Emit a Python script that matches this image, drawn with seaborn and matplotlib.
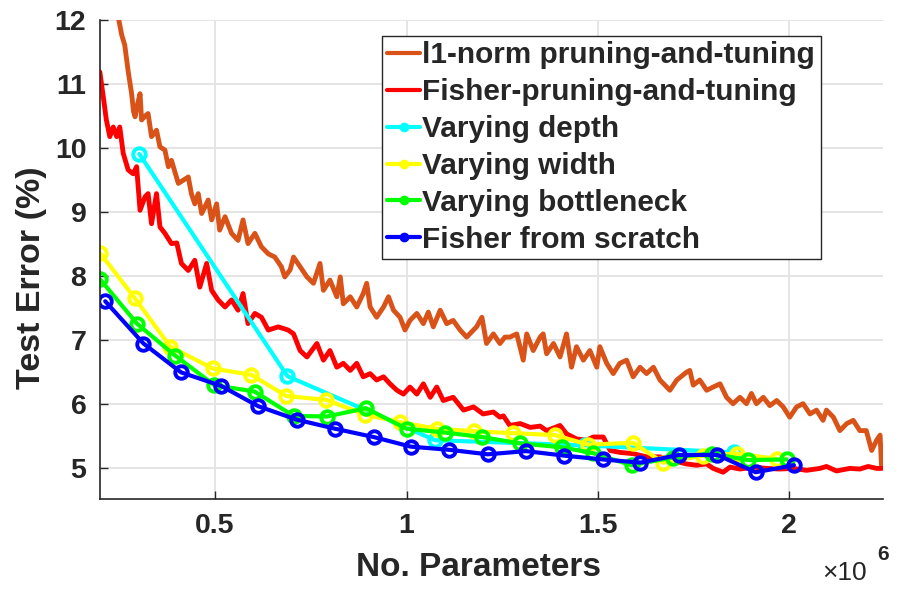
import matplotlib
matplotlib.use('Agg')
import matplotlib.pyplot as plt
import seaborn as sns
from matplotlib.lines import Line2D

# l1-norm pruning-and-tuning (values in units of 1e6 parameters)
l1_x = [0.205, 0.215, 0.235, 0.247, 0.256, 0.264, 0.273, 0.282, 0.287, 0.291, 0.298, 0.304, 0.308,
        0.317, 0.325, 0.334, 0.347, 0.356, 0.369, 0.378, 0.386, 0.404, 0.417, 0.43, 0.438, 0.447,
        0.456, 0.465, 0.473, 0.482, 0.491, 0.504, 0.512, 0.526, 0.543, 0.56, 0.573, 0.586, 0.604,
        0.621, 0.639, 0.656, 0.673, 0.682, 0.696, 0.705, 0.722, 0.74, 0.757, 0.774, 0.783, 0.8,
        0.818, 0.827, 0.835, 0.853, 0.87, 0.887, 0.896, 0.905, 0.922, 0.94, 0.953, 0.966, 0.983,
        0.996, 1.009, 1.027, 1.044, 1.057, 1.07, 1.088, 1.105, 1.122, 1.14, 1.157, 1.183, 1.197,
        1.209, 1.227, 1.244, 1.257, 1.27, 1.288, 1.305, 1.314, 1.331, 1.349, 1.357, 1.366, 1.384,
        1.401, 1.418, 1.431, 1.444, 1.462, 1.479, 1.497, 1.505, 1.523, 1.54, 1.557, 1.575, 1.592,
        1.61, 1.627, 1.645, 1.662, 1.688, 1.706, 1.731, 1.74, 1.749, 1.766, 1.784, 1.801, 1.819,
        1.836, 1.853, 1.871, 1.888, 1.901, 1.914, 1.932, 1.949, 1.967, 1.984, 2.001, 2.019, 2.036,
        2.054, 2.071, 2.088, 2.097, 2.115, 2.132, 2.15, 2.167, 2.184, 2.201, 2.215, 2.228, 2.237,
        2.241]
l1_y = [12.4, 12.3, 12.15, 12.05, 11.77, 11.61, 11.2, 10.85, 10.57, 10.49, 10.7, 10.85, 10.44,
        10.5, 10.54, 10.18, 10.28, 10.02, 9.97, 9.71, 9.81, 9.45, 9.5, 9.55, 9.29, 9.13,
        9.29, 8.98, 9.08, 9.19, 8.88, 9.13, 8.72, 8.93, 8.67, 8.56, 8.88, 8.51, 8.67,
        8.46, 8.35, 8.30, 8.15, 7.99, 8.1, 8.30, 8.15, 7.99, 7.89, 8.2, 7.78, 7.94,
        7.68, 7.99, 7.57, 7.68, 7.52, 7.73, 7.89, 7.52, 7.36, 7.52, 7.68, 7.47, 7.36,
        7.16, 7.31, 7.42, 7.26, 7.44, 7.21, 7.47, 7.26, 7.31, 7.16, 7.05, 7.21, 7.36,
        6.95, 7.1, 6.95, 7.05, 7.05, 7.1, 6.69, 7.1, 6.84, 7.05, 7.1, 6.79, 6.95,
        6.74, 7.1, 6.58, 6.90, 6.69, 6.84, 6.58, 6.90, 6.64, 6.48, 6.64, 6.69, 6.43,
        6.58, 6.48, 6.58, 6.38, 6.22, 6.38, 6.5, 6.53, 6.3, 6.38, 6.22, 6.27, 6.32,
        6.11, 6.01, 6.11, 6.01, 6.17, 6.01, 6.11, 5.98, 6.06, 5.96, 5.80, 5.96, 6.01,
        5.85, 5.91, 5.75, 5.91, 5.80, 5.59, 5.70, 5.75, 5.59, 5.59, 5.28, 5.44, 5.52,
        5.02]

# Fisher-pruning-and-tuning
fp_x = [0.199, 0.208, 0.216, 0.225, 0.234, 0.243, 0.251, 0.26, 0.273, 0.286, 0.295, 0.304, 0.317,
        0.325, 0.334, 0.347, 0.356, 0.369, 0.386, 0.4, 0.412, 0.43, 0.447, 0.46, 0.478, 0.491,
        0.508, 0.526, 0.543, 0.56, 0.573, 0.586, 0.604, 0.621, 0.639, 0.665, 0.691, 0.705, 0.722,
        0.74, 0.766, 0.783, 0.8, 0.818, 0.835, 0.853, 0.87, 0.887, 0.905, 0.922, 0.94, 0.957,
        0.975, 0.992, 1.009, 1.027, 1.044, 1.062, 1.079, 1.096, 1.122, 1.149, 1.175, 1.2, 1.227,
        1.244, 1.253, 1.27, 1.297, 1.323, 1.349, 1.366, 1.401, 1.418, 1.444, 1.47, 1.488, 1.514,
        1.532, 1.557, 1.592, 1.627, 1.662, 1.697, 1.731, 1.757, 1.784, 1.801, 1.827, 1.845, 1.871,
        1.906, 1.941, 1.975, 2.01, 2.045, 2.08, 2.097, 2.123, 2.158, 2.184, 2.206, 2.228, 2.241]
fp_y = [11.19, 10.80, 10.44, 10.18, 10.33, 10.18, 10.33, 9.92, 9.66, 9.60, 9.71, 9.03, 9.24,
        9.29, 8.82, 9.29, 8.77, 8.67, 8.51, 8.52, 8.2, 8.09, 8.25, 7.83, 8.20, 7.78,
        7.63, 7.52, 7.63, 7.47, 7.73, 7.26, 7.42, 7.36, 7.16, 7.21, 7.16, 7.1, 6.84,
        6.74, 6.95, 6.69, 6.84, 6.58, 6.64, 6.53, 6.64, 6.43, 6.48, 6.38, 6.43, 6.32,
        6.22, 6.16, 6.27, 6.16, 6.32, 6.11, 6.27, 6.06, 6.11, 5.91, 5.96, 5.85, 5.88,
        5.80, 5.82, 5.67, 5.70, 5.64, 5.66, 5.59, 5.67, 5.54, 5.46, 5.44, 5.49, 5.49,
        5.28, 5.25, 5.23, 5.18, 5.18, 5.12, 5.07, 5.05, 5.07, 5.0, 4.94, 5.02, 4.99,
        5.02, 5.0, 4.99, 5.0, 4.97, 5.0, 5.03, 4.96, 5.0, 4.99, 5.03, 5.0, 5.0]

depth_x = [0.302, 0.689, 1.075, 1.465, 1.855]
depth_y = [9.91, 6.44, 5.44, 5.36, 5.25]

width_x = [0.2, 0.29, 0.383, 0.494, 0.595, 0.686, 0.79, 0.892, 0.983, 1.079, 1.177, 1.279, 1.388,
           1.475, 1.592, 1.671, 1.775, 1.862, 1.967]
width_y = [8.36, 7.66, 6.90, 6.56, 6.46, 6.13, 6.07, 5.84, 5.72, 5.62, 5.58, 5.55, 5.52,
           5.37, 5.40, 5.09, 5.20, 5.23, 5.15]

bneck_x = [0.2, 0.296, 0.396, 0.498, 0.603, 0.705, 0.792, 0.894, 1.0, 1.1, 1.197, 1.297, 1.405,
           1.486, 1.588, 1.695, 1.797, 1.893, 1.993]
bneck_y = [7.95, 7.26, 6.76, 6.30, 6.20, 5.82, 5.81, 5.94, 5.62, 5.56, 5.49, 5.39, 5.33,
           5.24, 5.05, 5.17, 5.23, 5.13, 5.14]

scratch_x = [0.213, 0.313, 0.411, 0.515, 0.613, 0.714, 0.813, 0.914, 1.011, 1.112, 1.212, 1.312,
             1.411, 1.512, 1.611, 1.711, 1.812, 1.912, 2.012]
scratch_y = [7.61, 6.95, 6.50, 6.29, 5.97, 5.76, 5.62, 5.49, 5.34, 5.29, 5.22, 5.27,
             5.20, 5.14, 5.09, 5.21, 5.21, 4.94, 5.05]

labels = ['l1-norm pruning-and-tuning', 'Fisher-pruning-and-tuning', 'Varying depth',
          'Varying width', 'Varying bottleneck', 'Fisher from scratch']
colors = ['#D95319', '#FF0000', '#00FFFF', '#FFFF00', '#00FF00', '#0000FF']

sns.set_style('whitegrid')
plt.rcParams['font.family'] = ['Liberation Sans', 'DejaVu Sans']
plt.rcParams['font.weight'] = 'bold'

fig = plt.figure(figsize=(9.03, 5.9), dpi=100)
ax = fig.add_axes([0.111, 0.154, 0.867, 0.812])

# noisy pruning curves
sns.lineplot(x=l1_x, y=l1_y, ax=ax, color=colors[0], lw=3.5, sort=False, estimator=None)
sns.lineplot(x=fp_x, y=fp_y, ax=ax, color=colors[1], lw=3.5, sort=False, estimator=None)

# networks trained from scratch
series = [(depth_x, depth_y), (width_x, width_y), (bneck_x, bneck_y), (scratch_x, scratch_y)]
for (xs, ys), c in zip(series, colors[2:]):
    sns.lineplot(x=xs, y=ys, ax=ax, color=c, lw=3, sort=False, estimator=None,
                 marker='o', markersize=9, markerfacecolor='none', markeredgecolor=c,
                 markeredgewidth=2.8)

ax.set_xlim(0.2, 2.245)
ax.set_ylim(4.52, 12)
ax.set_xticks([0.5, 1, 1.5, 2])
ax.set_xticklabels(['0.5', '1', '1.5', '2'])
ax.set_yticks(range(5, 13))
ax.grid(True, color='#e3e3e3', lw=1.3)
for s in ['top', 'right']:
    ax.spines[s].set_visible(False)
for s in ['left', 'bottom']:
    ax.spines[s].set_color('#262626')
    ax.spines[s].set_linewidth(1.2)
ax.tick_params(direction='in', length=6, width=1, color='#262626', labelsize=20.5, pad=10,
               left=True, bottom=True)

ax.set_xlabel('No. Parameters', fontsize=24, fontweight='bold')
ax.set_ylabel('Test Error (%)', fontsize=24.5, fontweight='bold')
ax.xaxis.set_label_coords(0.483, -0.11)
ax.yaxis.set_label_coords(-0.068, 0.463)
fig.text(0.91, 0.017, '×10', fontsize=19, fontweight='normal', ha='left', va='baseline')
fig.text(0.971, 0.05, '6', fontsize=15, fontweight='bold', ha='left', va='baseline')

handles = [Line2D([], [], color=colors[0], lw=3),
           Line2D([], [], color=colors[1], lw=3)]
for c in colors[2:]:
    handles.append(Line2D([], [], color=c, lw=3, marker='o', markersize=6))
leg = ax.legend(handles, labels, loc='upper left', bbox_to_anchor=(0.36, 0.967),
                borderaxespad=0, fancybox=False, framealpha=1, edgecolor='#262626',
                prop={'size': 21.4, 'weight': 'bold'}, handlelength=1.1, handletextpad=0.08,
                labelspacing=0.3, borderpad=0.18)
leg.get_frame().set_linewidth(1.0)

fig.savefig('out.png', dpi=100)
